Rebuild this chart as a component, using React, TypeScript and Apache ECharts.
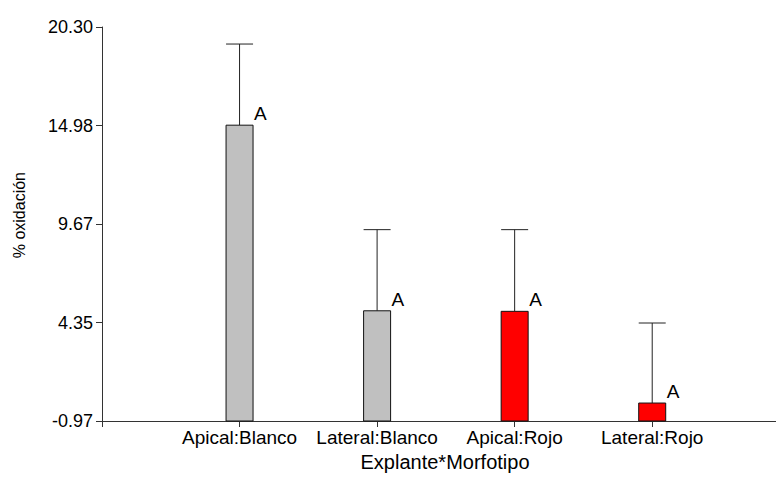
import React, { useEffect, useRef } from "react";
import * as echarts from "echarts";

const categories = ["Apical:Blanco", "Lateral:Blanco", "Apical:Rojo", "Lateral:Rojo"];
const means = [15.0, 4.98, 4.95, 0.0];
const upperErrors = [19.38, 9.36, 9.36, 4.32];
const letters = ["A", "A", "A", "A"];
const barColors = ["#c0c0c0", "#c0c0c0", "#ff0000", "#ff0000"];
const yTickLabels = ["-0.97", "4.35", "9.67", "14.98", "20.30"];
const yMin = -0.97;
const yMax = 20.3;

const FONT = "Liberation Sans, Arial, sans-serif";

export default function App() {
  const ref = useRef<HTMLDivElement>(null);

  useEffect(() => {
    if (!ref.current) return;
    const chart = echarts.init(ref.current, null, { renderer: "svg" });
    const interval = (yMax - yMin) / 4;
    const shift = -yMin;
    const data = categories.map((c, i) => [i + 1, means[i] + shift, upperErrors[i] + shift, i]);

    chart.setOption({
      animation: false,
      backgroundColor: "#ffffff",
      grid: { left: 102, right: 0, top: 27, bottom: 52, containLabel: false },
      xAxis: {
        type: "value",
        min: 0,
        max: 4.9,
        interval: 1,
        splitLine: { show: false },
        axisLine: { show: true, lineStyle: { color: "#333", width: 1 } },
        axisTick: { show: true, length: 6, lineStyle: { color: "#333" } },
        axisLabel: {
          margin: 7,
          fontSize: 19,
          color: "#000",
          fontFamily: FONT,
          showMaxLabel: false,
          formatter: (v: number) => {
            const k = Math.round(v);
            return k >= 1 && k <= categories.length ? categories[k - 1] : "";
          },
        },
        name: "Explante*Morfotipo",
        nameLocation: "middle",
        nameGap: 31,
        nameTextStyle: { fontSize: 20, color: "#000", fontFamily: FONT, padding: [0, 0, 0, 12] },
      },
      yAxis: {
        type: "value",
        min: 0,
        max: yMax - yMin,
        interval: interval,
        splitLine: { show: false },
        axisLine: { show: true, lineStyle: { color: "#333", width: 1 } },
        axisTick: { show: true, length: 6, lineStyle: { color: "#333" } },
        axisLabel: {
          margin: 9,
          fontSize: 18,
          color: "#000",
          fontFamily: FONT,
          formatter: (v: number) => {
            const k = Math.round(v / interval);
            return yTickLabels[k] ?? "";
          },
        },
      },
      graphic: [
        {
          type: "group",
          left: 11,
          top: 172,
          children: [
            {
              type: "text",
              rotation: Math.PI / 2,
              style: {
                text: "% oxidación",
                fontSize: 16,
                fontFamily: "Arial",
                fill: "#000",
                textAlign: "right",
                textVerticalAlign: "top",
              },
            },
          ],
        },
      ],
      series: [
        {
          type: "custom",
          data: data,
          clip: false,
          renderItem: (params: any, api: any) => {
            const x = api.value(0);
            const m = api.value(1);
            const u = api.value(2);
            const idx = api.value(3);
            const base = api.coord([x, 0]);
            const top = api.coord([x, m]);
            const up = api.coord([x, u]);
            const w = 27;
            const left = top[0] - w / 2;
            return {
              type: "group",
              children: [
                {
                  type: "line",
                  shape: { x1: top[0], y1: top[1], x2: up[0], y2: up[1] },
                  style: { stroke: "#222", lineWidth: 1 },
                },
                {
                  type: "line",
                  shape: { x1: left, y1: up[1], x2: left + w, y2: up[1] },
                  style: { stroke: "#222", lineWidth: 1 },
                },
                {
                  type: "rect",
                  shape: { x: left, y: top[1], width: w, height: base[1] - top[1] },
                  style: { fill: barColors[idx], stroke: "#111", lineWidth: 1 },
                },
                {
                  type: "text",
                  x: left + w + 1,
                  y: top[1] - 2,
                  style: {
                    text: letters[idx],
                    fontSize: 19,
                    fontFamily: FONT,
                    fill: "#000",
                    textAlign: "left",
                    textVerticalAlign: "bottom",
                  },
                },
              ],
            };
          },
        },
      ],
    });

    return () => chart.dispose();
  }, []);

  return (
    <div
      ref={ref}
      style={{ position: "fixed", left: 0, top: 0, width: 776, height: 477, background: "#fff" }}
    />
  );
}
